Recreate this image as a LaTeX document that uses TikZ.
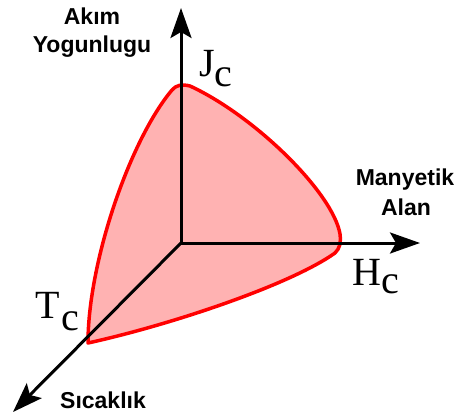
\documentclass[tikz,border=0pt]{standalone}
\usepackage{fontspec}
\setmainfont{Liberation Serif}
\newfontfamily\labfont{Liberation Sans}
\usetikzlibrary{arrows.meta}
\begin{document}
\begin{tikzpicture}[x=1pt,y=-1pt,
  axis/.style={line width=3pt, -{Stealth[length=30pt,width=21pt,inset=6pt]}},
  surf/.style={draw=red, line width=3.5pt, fill={rgb,255:red,255;green,178;blue,178}, line join=round},
  axlabel/.style={font=\labfont\bfseries\fontsize{23}{29}\selectfont, inner sep=0pt, anchor=base},
  crit/.style={font=\fontsize{40}{40}\selectfont, inner sep=0pt, anchor=base west}]
\useasboundingbox (0,0) rectangle (460,417);
% critical surface
\draw[surf] (88,343) .. controls (88,262) and (130,140) .. (172,90)
  .. controls (176,85) and (182,84) .. (190,86)
  .. controls (255,116) and (333,193) .. (340,234)
  .. controls (341,243) and (340,248) .. (335,253)
  .. controls (290,285) and (170,325) .. (88,343) -- cycle;
% axes
\coordinate (O) at (181,243);
\coordinate (Jtip) at (181,8);
\coordinate (Htip) at (420,243);
\coordinate (Ttip) at (13,412);
\draw[axis] (O) -- (Jtip);
\draw[axis] (O) -- (Htip);
\draw[axis] (O) -- (Ttip);
% axis labels
\node[axlabel] (akim) at (92,25) {Akım};
\node[axlabel] (yog) at (92,53) {Yogunlugu};
\node[axlabel] (many) at (405,185) {Manyetik};
\node[axlabel] (alan) at (406,215) {Alan};
\node[axlabel] (sic) at (103,408) {Sıcaklık};
% critical values
\node[crit] (Jc) at (199,77) {J\raisebox{-10pt}{c}};
\node[crit] (Hc) at (352,285) {H\raisebox{-8pt}{c}};
\node[crit] (Tc) at (35,318) {T\kern2pt\raisebox{-12pt}{c}};
\end{tikzpicture}
\end{document}
